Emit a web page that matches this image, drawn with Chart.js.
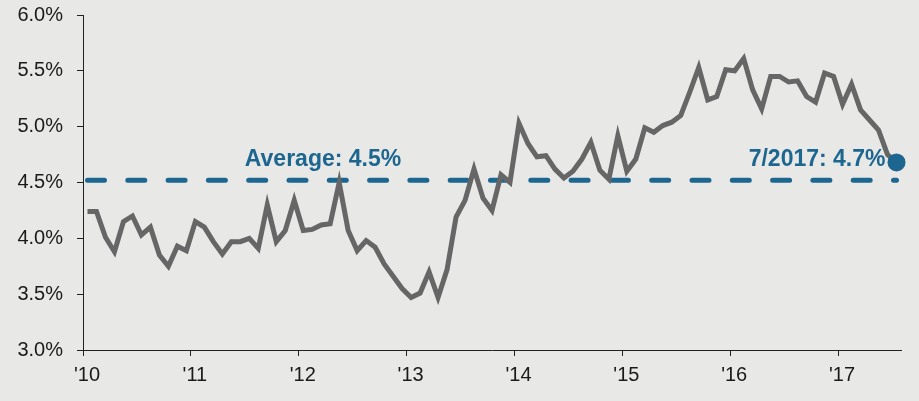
<!DOCTYPE html>
<html lang="en">
<head>
    <meta charset="UTF-8">
    <title>Rate since 2010</title>
    <style>
        body {
            margin: 0;
            padding: 0;
            background: #e8e8e6;
            overflow: hidden;
        }
        .wrap {
            width: 919px;
            height: 401px;
        }
    </style>
</head>
<body>
    <div class="wrap">
        <canvas id="chart" width="919" height="401"></canvas>
    </div>
    <script src="https://cdn.jsdelivr.net/npm/chart.js@4.4.1/dist/chart.umd.min.js"></script>
    <script>
        // monthly values, Jan 2010 .. Jul 2017 (in %)
        const rates = [
            4.24, 4.24, 4.01, 3.88, 4.15, 4.20, 4.03, 4.10, 3.85, 3.75, 3.93, 3.89,
            4.15, 4.10, 3.97, 3.86, 3.97, 3.97, 4.00, 3.91, 4.30, 3.97, 4.07, 4.34,
            4.07, 4.08, 4.12, 4.13, 4.50, 4.07, 3.89, 3.98, 3.92, 3.77, 3.66, 3.55,
            3.47, 3.51, 3.70, 3.47, 3.72, 4.19, 4.34, 4.62, 4.36, 4.25, 4.57, 4.50,
            5.03, 4.85, 4.73, 4.74, 4.62, 4.54, 4.60, 4.71, 4.86, 4.61, 4.53, 4.92,
            4.60, 4.71, 4.99, 4.95, 5.01, 5.04, 5.10, 5.31, 5.53, 5.24, 5.27, 5.51,
            5.50, 5.61, 5.33, 5.16, 5.45, 5.45, 5.40, 5.41, 5.27, 5.22, 5.48, 5.45,
            5.20, 5.38, 5.15, 5.06, 4.97, 4.75, 4.68
        ];
        const yearLabels = ["'10", "'11", "'12", "'13", "'14", "'15", "'16", "'17"];
        const average = 4.52;
        const averageLabel = 'Average: 4.5%';
        const latestLabel = '7/2017: 4.7%';

        const blue = '#1c6690';
        const gray = '#666666';
        const axisColor = '#222222';

        // points sit in the middle of their month
        const linePoints = rates.map((v, i) => ({ x: i + 0.5, y: v }));
        const first = linePoints[0];
        const last = linePoints[linePoints.length - 1];

        Chart.defaults.font.family = '"Liberation Sans", Arial, sans-serif';
        Chart.defaults.font.size = 20;
        Chart.defaults.color = '#1a1a1a';

        const labelsPlugin = {
            id: 'notes',
            afterDatasetsDraw(chart) {
                const { ctx, scales: { x, y } } = chart;
                ctx.save();
                ctx.fillStyle = blue;
                ctx.font = 'bold 23px "Liberation Sans", Arial, sans-serif';
                ctx.textBaseline = 'alphabetic';
                ctx.textAlign = 'left';
                ctx.fillText(averageLabel, x.getPixelForValue(18), y.getPixelForValue(average) - 14);
                ctx.textAlign = 'right';
                ctx.fillText(latestLabel, x.getPixelForValue(last.x) - 11, y.getPixelForValue(last.y) + 4);
                ctx.restore();
            }
        };

        new Chart(document.getElementById('chart'), {
            type: 'line',
            data: {
                datasets: [
                    {
                        data: [last],
                        showLine: false,
                        pointRadius: 9,
                        pointBackgroundColor: blue,
                        pointBorderWidth: 0,
                        clip: false,
                        order: 0
                    },
                    {
                        data: linePoints,
                        borderColor: gray,
                        borderWidth: 5,
                        pointRadius: 0,
                        tension: 0,
                        order: 1
                    },
                    {
                        data: [{ x: first.x, y: average }, { x: last.x, y: average }],
                        borderColor: blue,
                        borderWidth: 5,
                        borderDash: [17, 23.3],
                        borderCapStyle: 'round',
                        pointRadius: 0,
                        order: 2
                    }
                ]
            },
            options: {
                responsive: false,
                animation: false,
                layout: {
                    padding: { left: 0, right: 18, top: 15, bottom: 0 }
                },
                plugins: {
                    legend: { display: false },
                    tooltip: { enabled: false }
                },
                scales: {
                    x: {
                        type: 'linear',
                        min: 0,
                        max: 91,
                        afterBuildTicks: axis => {
                            axis.ticks = yearLabels.map((_, i) => ({ value: i * 12 }));
                        },
                        afterFit: axis => {
                            axis.paddingLeft = 0;
                            axis.paddingRight = 0;
                            axis.height = 51;
                        },
                        ticks: {
                            callback: (value, index) => yearLabels[index],
                            labelOffset: 4,
                            padding: 7,
                            maxRotation: 0,
                            autoSkip: false
                        },
                        grid: {
                            drawOnChartArea: false,
                            tickLength: 6,
                            tickColor: axisColor
                        },
                        border: { color: axisColor, width: 1 }
                    },
                    y: {
                        min: 3,
                        max: 6,
                        afterFit: axis => {
                            axis.paddingTop = 0;
                            axis.paddingBottom = 0;
                            axis.width = 83;
                        },
                        ticks: {
                            stepSize: 0.5,
                            padding: 14,
                            callback: v => v.toFixed(1) + '%'
                        },
                        grid: {
                            drawOnChartArea: false,
                            tickLength: 6,
                            tickColor: axisColor
                        },
                        border: { color: axisColor, width: 1 }
                    }
                }
            },
            plugins: [labelsPlugin]
        });
    </script>
</body>
</html>
